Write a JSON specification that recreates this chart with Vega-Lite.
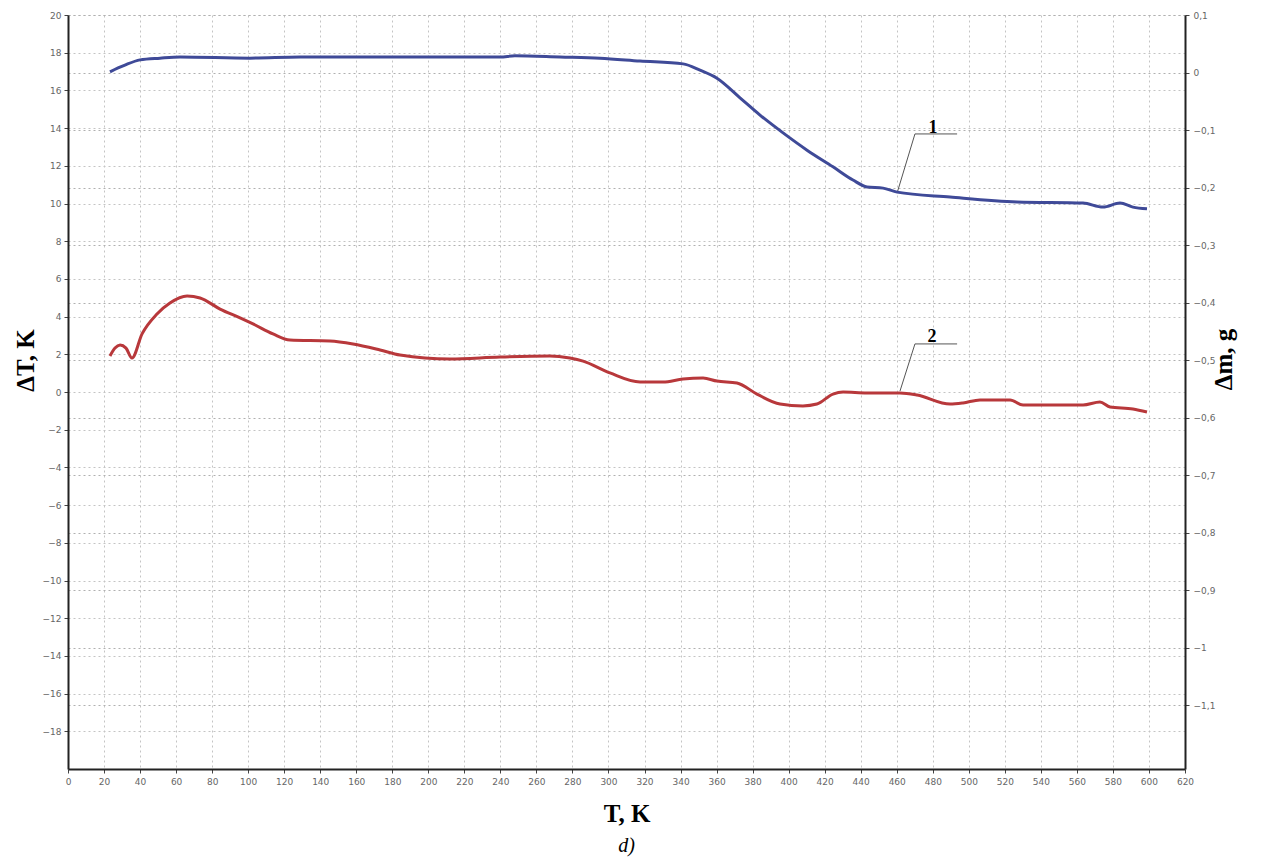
{
  "$schema": "https://vega.github.io/schema/vega-lite/v6.json",
  "width": 1117,
  "height": 754,
  "autosize": {"type": "none"},
  "padding": {"left": 68, "top": 15, "right": 79, "bottom": 96},
  "background": "white",
  "config": {
    "view": {"stroke": null},
    "axis": {"labelFont": "DejaVu Sans", "labelFontSize": 9, "labelColor": "#666", "labelOverlap": false, "tickColor": "#444", "tickSize": 4, "gridColor": "#c4c4c4", "gridDash": [2, 3], "gridWidth": 1, "domainColor": "#222", "domainWidth": 2}
  },
  "title": {"text": "d)", "orient": "bottom", "font": "Liberation Serif", "fontStyle": "italic", "fontWeight": "normal", "fontSize": 20, "color": "#000", "offset": 10, "anchor": "middle"},
  "datasets": {
    "dT": [
      {"T": 23.3, "dT": 1.91}, {"T": 26.1, "dT": 2.33}, {"T": 28.9, "dT": 2.49}, {"T": 32.2, "dT": 2.33}, {"T": 35.5, "dT": 1.80},
      {"T": 41.1, "dT": 3.08}, {"T": 49.4, "dT": 4.14}, {"T": 56.6, "dT": 4.72}, {"T": 66.1, "dT": 5.09}, {"T": 73.3, "dT": 4.99},
      {"T": 84.4, "dT": 4.40}, {"T": 95.5, "dT": 3.93}, {"T": 102.7, "dT": 3.61}, {"T": 113.8, "dT": 3.08}, {"T": 123.2, "dT": 2.76},
      {"T": 145.4, "dT": 2.71}, {"T": 158.2, "dT": 2.55}, {"T": 173.2, "dT": 2.23}, {"T": 184.3, "dT": 1.96}, {"T": 212.0, "dT": 1.75},
      {"T": 239.8, "dT": 1.86}, {"T": 267.5, "dT": 1.91}, {"T": 278.6, "dT": 1.80}, {"T": 285.9, "dT": 1.64}, {"T": 300.8, "dT": 1.01},
      {"T": 317.5, "dT": 0.53}, {"T": 330.3, "dT": 0.53}, {"T": 341.4, "dT": 0.69}, {"T": 352.5, "dT": 0.74}, {"T": 360.2, "dT": 0.58},
      {"T": 371.3, "dT": 0.48}, {"T": 382.4, "dT": -0.11}, {"T": 395.2, "dT": -0.64}, {"T": 407.9, "dT": -0.74}, {"T": 415.7, "dT": -0.64},
      {"T": 424.6, "dT": -0.11}, {"T": 430.2, "dT": 0.0}, {"T": 443.5, "dT": -0.05}, {"T": 461.8, "dT": -0.05}, {"T": 471.3, "dT": -0.16},
      {"T": 489.6, "dT": -0.64}, {"T": 496.8, "dT": -0.58}, {"T": 506.2, "dT": -0.42}, {"T": 522.9, "dT": -0.42}, {"T": 530.1, "dT": -0.69},
      {"T": 563.4, "dT": -0.69}, {"T": 572.8, "dT": -0.53}, {"T": 578.4, "dT": -0.80}, {"T": 591.1, "dT": -0.90}, {"T": 598.9, "dT": -1.06}
    ],
    "dm": [
      {"T": 23.3, "dm": 0.001}, {"T": 27.8, "dm": 0.008}, {"T": 31.6, "dm": 0.013}, {"T": 40.0, "dm": 0.022}, {"T": 51.1, "dm": 0.025},
      {"T": 62.2, "dm": 0.027}, {"T": 101.0, "dm": 0.025}, {"T": 128.8, "dm": 0.027}, {"T": 184.3, "dm": 0.027}, {"T": 239.8, "dm": 0.027},
      {"T": 248.1, "dm": 0.029}, {"T": 273.1, "dm": 0.027}, {"T": 295.3, "dm": 0.025}, {"T": 317.5, "dm": 0.020}, {"T": 341.4, "dm": 0.015},
      {"T": 350.8, "dm": 0.004}, {"T": 360.2, "dm": -0.010}, {"T": 373.0, "dm": -0.044}, {"T": 384.1, "dm": -0.074}, {"T": 396.9, "dm": -0.105},
      {"T": 410.2, "dm": -0.135}, {"T": 424.6, "dm": -0.164}, {"T": 435.7, "dm": -0.187}, {"T": 443.5, "dm": -0.199}, {"T": 452.4, "dm": -0.201},
      {"T": 460.2, "dm": -0.208}, {"T": 489.6, "dm": -0.2165}, {"T": 526.8, "dm": -0.225}, {"T": 563.4, "dm": -0.227}, {"T": 574.5, "dm": -0.234},
      {"T": 583.9, "dm": -0.227}, {"T": 591.1, "dm": -0.234}, {"T": 598.9, "dm": -0.237}
    ],
    "leaders": [
      {"xa": 460.2, "ya": 10.56, "xb": 470.1, "yb": 13.69},
      {"xa": 470.1, "ya": 13.69, "xb": 493.5, "yb": 13.69},
      {"xa": 461.8, "ya": 0.05, "xb": 470.1, "yb": 2.55},
      {"xa": 470.1, "ya": 2.55, "xb": 493.5, "yb": 2.55}
    ],
    "labels": [
      {"T": 480.1, "v": 14.0, "label": "1"},
      {"T": 479.6, "v": 2.9, "label": "2"}
    ]
  },
  "layer": [
    {
      "layer": [
        {
          "data": {"name": "dT"},
          "mark": {"type": "line", "color": "#b8383b", "strokeWidth": 3, "interpolate": "monotone"},
          "encoding": {
            "x": {"field": "T", "type": "quantitative", "scale": {"domain": [0, 620], "nice": false, "zero": false},
              "axis": {"values": [0,20,40,60,80,100,120,140,160,180,200,220,240,260,280,300,320,340,360,380,400,420,440,460,480,500,520,540,560,580,600,620], "format": "d", "tickCount": 200, "labelOverlap": false, "labelFlush": false, "grid": true, "title": "T, K", "titleFont": "Liberation Serif", "titleFontSize": 25, "titleFontWeight": "bold", "titleColor": "#000", "titlePadding": 15, "labelPadding": 4}},
            "y": {"field": "dT", "type": "quantitative", "scale": {"domain": [-20, 20], "nice": false, "zero": false},
              "axis": {"orient": "left", "grid": true, "format": "d", "tickCount": 200, "labelOverlap": false, "labelFlush": false, "values": [20,18,16,14,12,10,8,6,4,2,0,-2,-4,-6,-8,-10,-12,-14,-16,-18], "title": "ΔT, K", "titleFont": "Liberation Serif", "titleFontSize": 25, "titleFontWeight": "bold", "titleColor": "#000", "titlePadding": 4, "titleY": 345, "labelPadding": 3}}
          }
        },
        {
          "data": {"name": "leaders"},
          "mark": {"type": "rule", "color": "#555", "strokeWidth": 1},
          "encoding": {
            "x": {"field": "xa", "type": "quantitative"},
            "y": {"field": "ya", "type": "quantitative"},
            "x2": {"field": "xb"},
            "y2": {"field": "yb"}
          }
        },
        {
          "data": {"name": "labels"},
          "mark": {"type": "text", "font": "Liberation Serif", "fontWeight": "bold", "fontSize": 18, "color": "#000", "baseline": "middle", "align": "center"},
          "encoding": {
            "x": {"field": "T", "type": "quantitative"},
            "y": {"field": "v", "type": "quantitative"},
            "text": {"field": "label"}
          }
        }
      ]
    },
    {
      "data": {"name": "dm"},
      "mark": {"type": "line", "color": "#3f4a98", "strokeWidth": 3, "interpolate": "monotone"},
      "encoding": {
        "x": {"field": "T", "type": "quantitative"},
        "y": {"field": "dm", "type": "quantitative", "scale": {"domain": [-1.211, 0.1], "nice": false, "zero": false},
          "axis": {"orient": "right", "grid": true, "tickCount": 200, "labelOverlap": false, "labelFlush": false, "gridColor": "#b0b0b0", "values": [0.1,0,-0.1,-0.2,-0.3,-0.4,-0.5,-0.6,-0.7,-0.8,-0.9,-1,-1.1], "labelExpr": "replace(format(datum.value, '.1~f'), '.', ',')", "title": "Δm, g", "titleAngle": -90, "titleFont": "Liberation Serif", "titleFontSize": 25, "titleFontWeight": "bold", "titleColor": "#000", "titlePadding": 22, "titleY": 344, "labelPadding": 4}}
      }
    }
  ],
  "resolve": {"scale": {"y": "independent"}}
}
